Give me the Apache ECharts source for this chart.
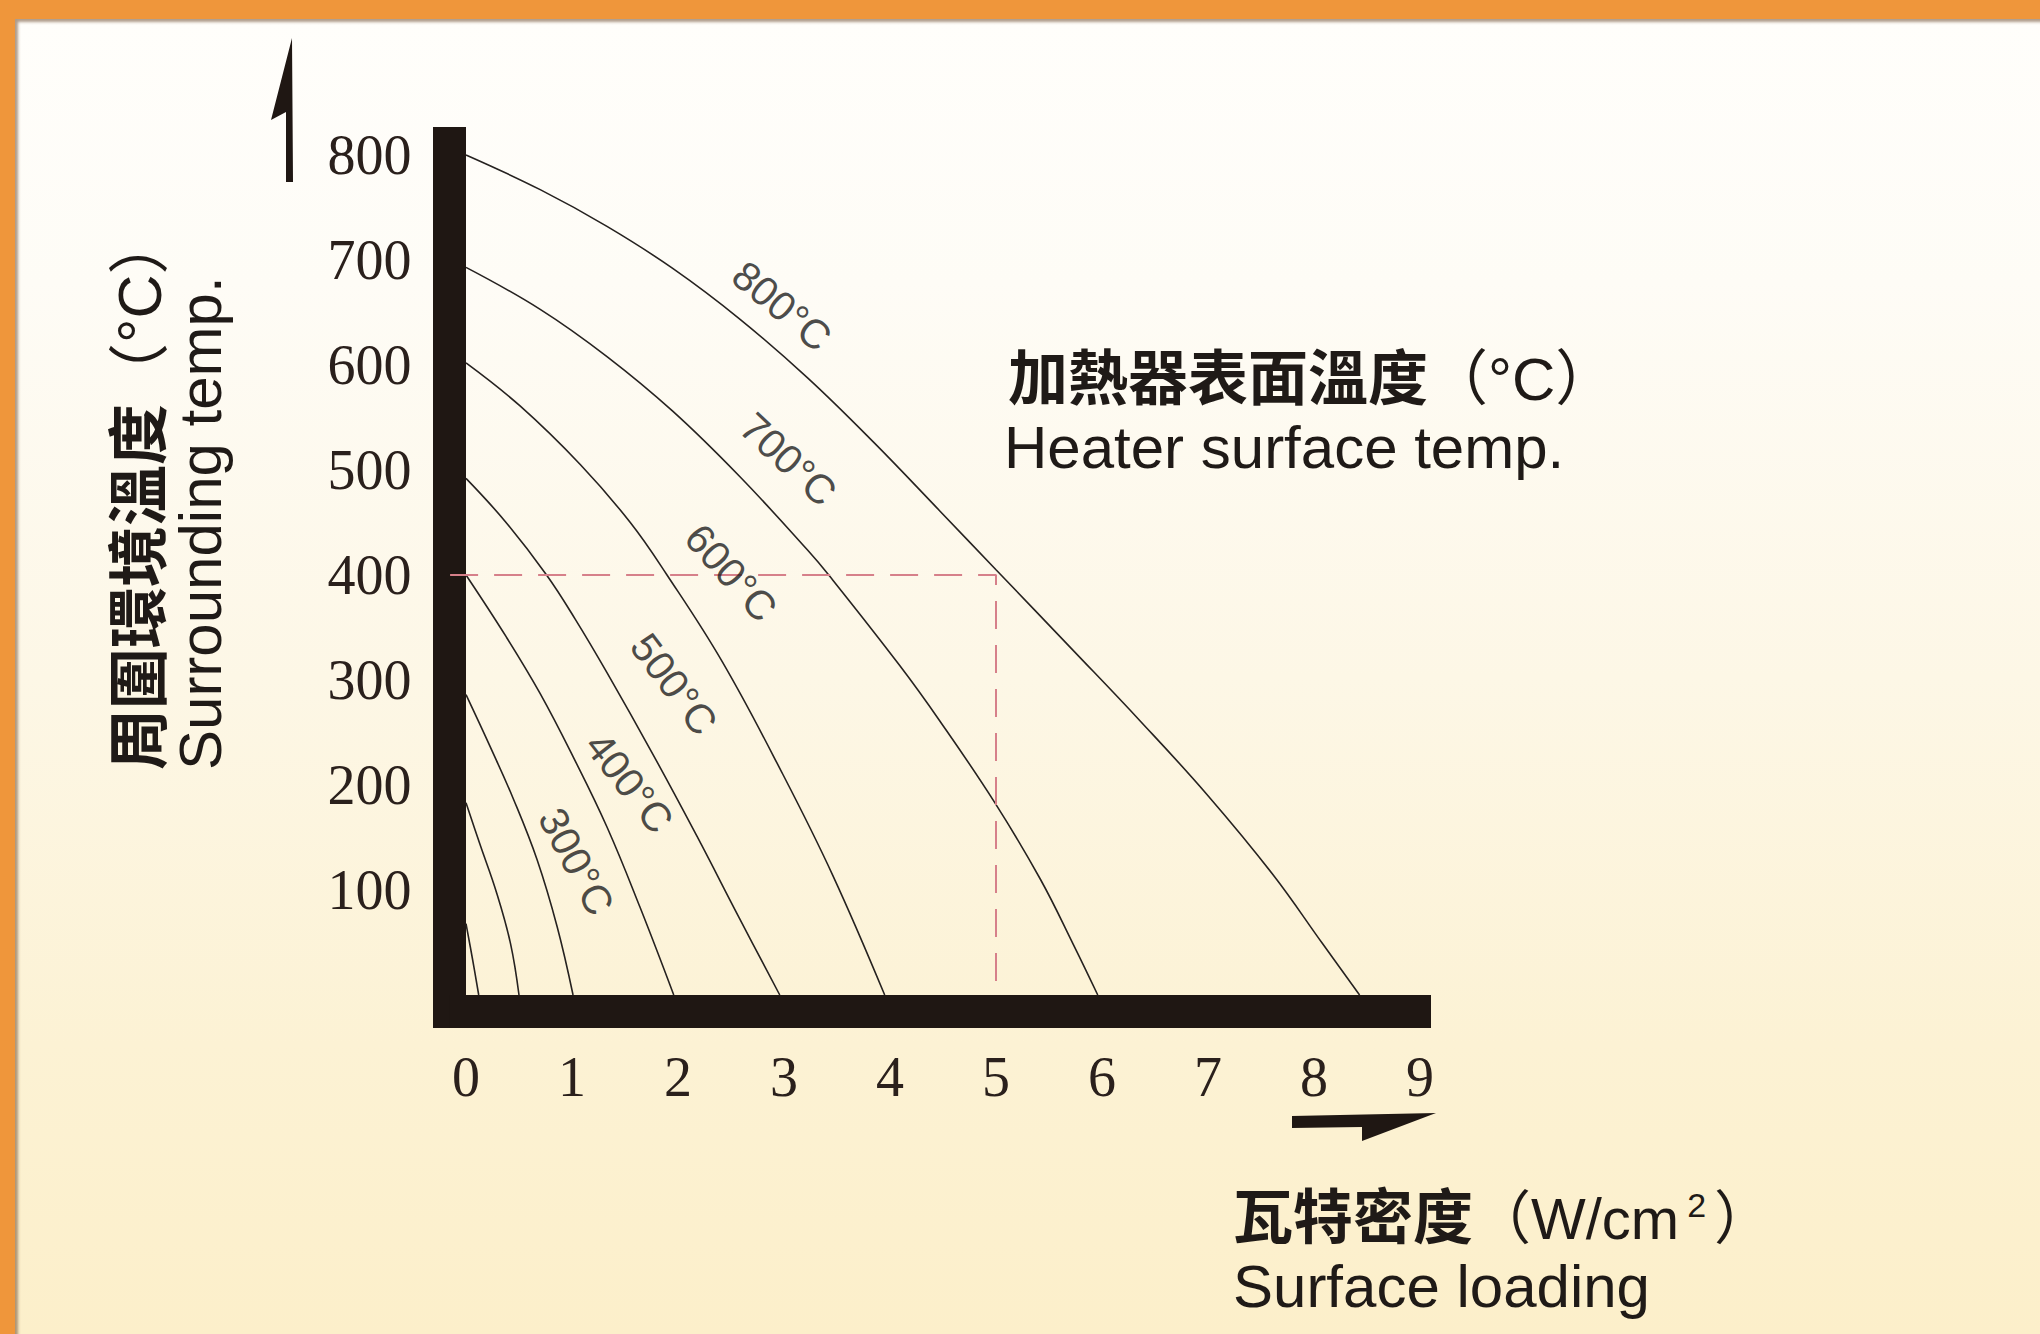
<!DOCTYPE html>
<html>
<head>
<meta charset="utf-8">
<script src="https://cdn.jsdelivr.net/npm/echarts@6/dist/echarts.min.js"></script>
<style>
html,body{margin:0;padding:0;width:2040px;height:1334px;overflow:hidden;background:#ef963b;}
#bg{position:absolute;left:15px;top:19px;width:2025px;height:1315px;
  background:linear-gradient(to bottom,#fffefb 0%,#fefcf6 20%,#fdf7e6 50%,#fcf2d4 78%,#fcefca 100%);
  box-shadow:inset 3px 3px 3px rgba(110,75,45,0.55);}
#chart{position:absolute;left:0;top:0;width:2040px;height:1334px;}
</style>
</head>
<body>
<div id="bg"></div>
<div id="chart"></div>
<script>
// ---------------- data ----------------
const xTicks = [0, 1, 2, 3, 4, 5, 6, 7, 8, 9];            // W/cm²
const yTicks = [100, 200, 300, 400, 500, 600, 700, 800];   // °C

// heater surface temperature curves: [surface loading, surrounding temp]
const curve800 = [[0,800],[0.70,767],[1.33,732],[1.95,692],[2.58,644],[3.22,588],[3.84,527],[4.47,461],[5.00,405],[5.73,328],[6.36,261],[6.99,191],[7.61,115],[8.08,49],[8.43,0]];
const curve700 = [[0,693],[0.70,653],[1.33,608],[1.95,556],[2.58,494],[3.22,424],[3.43,399],[4.09,314],[4.47,261],[4.99,183],[5.42,110],[5.73,48],[5.96,0]];
const curve600 = [[0,602],[0.51,561],[1.08,505],[1.55,450],[1.89,401],[2.42,317],[2.99,210],[3.46,114],[3.95,0]];
const curve500 = [[0,492],[0.37,451],[0.76,400],[1.03,358],[1.33,307],[1.77,228],[2.18,151],[2.58,73],[2.96,0]];
const curve400 = [[0,400],[0.38,341],[0.70,287],[1.01,227],[1.33,160],[1.64,84],[1.96,0]];
const curve300 = [[0,286],[0.23,236],[0.45,186],[0.67,129],[0.86,65],[1.01,0]];
const curve200 = [[0,183],[0.13,144],[0.29,97],[0.42,49],[0.50,0]];
const curve100 = [[0,68],[0.06,35],[0.12,0]];

const curveLabels = ['800°C', '700°C', '600°C', '500°C', '400°C', '300°C'];
// example reading: 400 °C surroundings, 800 °C heater -> 5 W/cm²
const exampleLoading = 5;
const exampleSurrounding = 400;

// ---------------- layout (pixels) ----------------
const X0 = 466, PX_X = 106;      // x = 0 position, px per W/cm²
const Y0 = 995, PX_Y = 1.05;     // y = 0 position, px per °C
const BAR = 33;                  // thickness of the axis bars
const AXIS_TOP = 127, AXIS_RIGHT = 1431;
const gridLeft = X0 - BAR / 2, gridTop = AXIS_TOP + BAR / 2;
const gridRight = AXIS_RIGHT, gridBottom = Y0 + BAR / 2;

// label anchors & angles (annotation placement)
const labelAnchors = [[2.98,656],[3.04,510],[2.50,402],[1.96,296],[1.54,202],[1.04,127]];
const labelAngles = [-40, -43, -48, -53, -52, -62];

const INK = '#1f1713';
const TXT = '#1f1a17';
const chart = echarts.init(document.getElementById('chart'), null, {renderer: 'svg'});

const curveData = [curve800, curve700, curve600, curve500, curve400, curve300, curve200, curve100];
const series = curveData.map((d, i) => ({
  type: 'line', name: 'c' + i, data: d, smooth: 0.4, symbol: 'none', showSymbol: false,
  silent: true, z: 3, lineStyle: {color: '#262220', width: 1.6}
}));
series.push({
  type: 'line', name: 'guide', silent: true, z: 4, symbol: 'none',
  data: [[-0.15, exampleSurrounding], [exampleLoading, exampleSurrounding], [exampleLoading, 0]],
  lineStyle: {color: '#d6808a', width: 2, type: [28, 16]}
});
series.push({
  type: 'scatter', name: 'labels', silent: true, z: 5, symbolSize: 1,
  itemStyle: {color: 'rgba(0,0,0,0)'},
  data: labelAnchors.map((p, i) => ({name: curveLabels[i], value: p, label: {rotate: labelAngles[i]}})),
  label: {show: true, position: 'inside', formatter: '{b}', fontFamily: 'Liberation Sans', fontSize: 41, color: '#1c1c1c'}
});

const cjk = "'Liberation Sans', 'Noto Sans CJK TC'";
function txt(x, y, text, extra) {
  return Object.assign({type: 'text', z: 10, x: x, y: y, style: Object.assign({
    text: text, align: 'left', verticalAlign: 'middle', textAlign: 'left', textVerticalAlign: 'middle', fill: TXT
  }, extra.style)}, extra.el || {});
}
const option = {
  backgroundColor: 'transparent',
  animation: false,
  grid: {left: gridLeft, top: gridTop, width: gridRight - gridLeft, height: gridBottom - gridTop, containLabel: false},
  xAxis: {
    type: 'value',
    min: -(BAR / 2) / PX_X, max: (AXIS_RIGHT - X0) / PX_X,
    axisLine: {show: true, onZero: false, lineStyle: {color: INK, width: BAR, cap: 'butt'}},
    axisTick: {show: false}, splitLine: {show: false},
    axisLabel: {customValues: xTicks, margin: 37, fontFamily: 'Liberation Serif', fontSize: 56, color: '#2a201c'}
  },
  yAxis: {
    type: 'value',
    min: -(BAR / 2) / PX_Y, max: (Y0 - gridTop) / PX_Y,
    axisLine: {show: true, onZero: false, lineStyle: {color: INK, width: BAR, cap: 'square'}},
    axisTick: {show: false}, splitLine: {show: false},
    axisLabel: {customValues: yTicks, margin: 38, fontFamily: 'Liberation Serif', fontSize: 56, color: '#2a201c'}
  },
  graphic: [
    {type: 'polygon', z: 10, shape: {points: [[292,38],[293,182],[286,182],[286,112],[271,120]]}, style: {fill: INK}},
    {type: 'polygon', z: 10, shape: {points: [[1292,1116],[1436,1113],[1362,1141],[1362,1127],[1292,1128]]}, style: {fill: INK}},
    txt(1008, 379, '{cn|加熱器表面溫度}{lat|（°C）}', {style: {
      rich: {cn: {fontFamily: cjk, fontWeight: 'bold', fontSize: 60, fill: TXT}, lat: {fontFamily: cjk, fontSize: 60, fill: TXT}}}}),
    txt(1004, 447, 'Heater surface temp.', {style: {fontFamily: 'Liberation Sans', fontSize: 60}}),
    txt(1233, 1218, '{cn|瓦特密度}{lat|（W/cm}{sup|2}{lat|）}', {style: {
      rich: {cn: {fontFamily: cjk, fontWeight: 'bold', fontSize: 60, fill: TXT},
             lat: {fontFamily: cjk, fontSize: 58, fill: TXT},
             sup: {fontFamily: 'Liberation Sans', fontSize: 34, fill: TXT, verticalAlign: 'top', padding: [0, 8, 0, 8]}}}}),
    txt(1233, 1286, 'Surface loading', {style: {fontFamily: 'Liberation Sans', fontSize: 60}}),
    txt(140, 770, '{cn|周圍環境溫度}{lat|（°C）}', {el: {rotation: Math.PI / 2}, style: {
      rich: {cn: {fontFamily: cjk, fontWeight: 'bold', fontSize: 61, fill: TXT}, lat: {fontFamily: cjk, fontSize: 61, fill: TXT}}}}),
    txt(200, 770, 'Surrounding temp.', {el: {rotation: Math.PI / 2}, style: {fontFamily: 'Liberation Sans', fontSize: 60}})
  ],
  series: series
};
chart.setOption(option);
</script>
</body>
</html>
